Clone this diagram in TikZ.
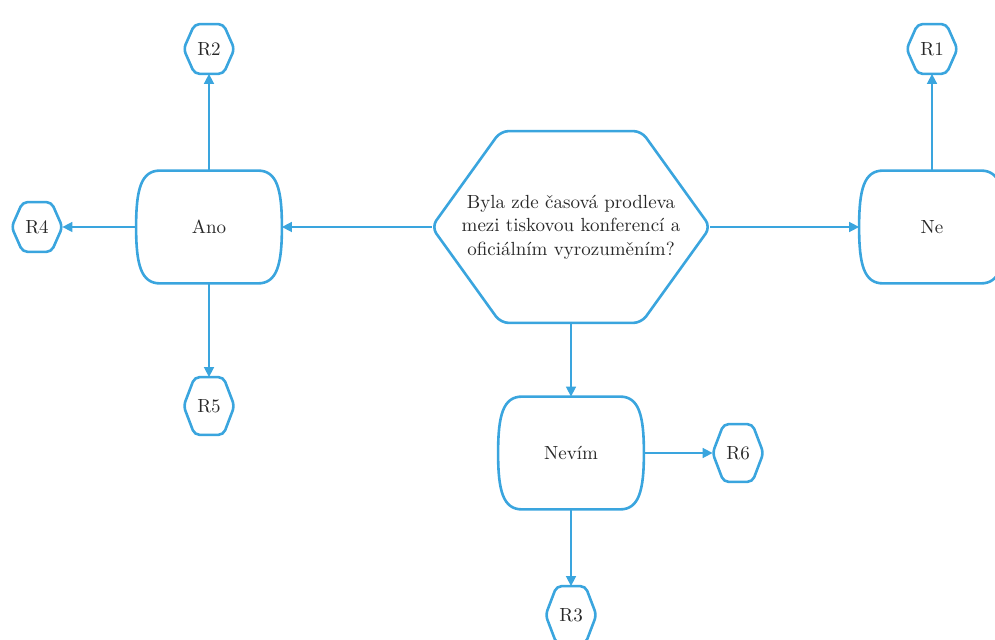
\documentclass[tikz,border=0pt]{standalone}
\usepackage{tikz}
\usetikzlibrary{shapes,arrows.meta,positioning,calc}
\definecolor{flowblue}{RGB}{58,165,222}
\definecolor{textgray}{RGB}{40,40,40}

% outline of a stretched hexagon round a node: #1 node, #2 inset of the points, #3 corner radius
\newcommand{\hexframe}[3]{%
  \draw[frame, rounded corners=#3] (#1.west) -- ($(#1.north west)+(#2,0)$) -- ($(#1.north east)+(-#2,0)$)
    -- (#1.east) -- ($(#1.south east)+(-#2,0)$) -- ($(#1.south west)+(#2,0)$) -- cycle;}
% outline of an answer box with bulging sides
\newcommand{\answerframe}[1]{%
  \draw[frame] ($(#1.north west)+(24,0)$) -- ($(#1.north east)+(-24,0)$)
    .. controls ($(#1.north east)+(-5,0)$) and ($(#1.east)+(0,-38)$) .. (#1.east)
    .. controls ($(#1.east)+(0,38)$) and ($(#1.south east)+(-5,0)$) .. ($(#1.south east)+(-24,0)$)
    -- ($(#1.south west)+(24,0)$)
    .. controls ($(#1.south west)+(5,0)$) and ($(#1.west)+(0,38)$) .. (#1.west)
    .. controls ($(#1.west)+(0,-38)$) and ($(#1.north west)+(5,0)$) .. cycle;}

\begin{document}
\begin{tikzpicture}[x=0.5pt, y=-0.5pt, >={Triangle[length=5pt,width=5pt]},
    frame/.style={draw=flowblue, line width=1.3pt},
    box/.style={rectangle, inner sep=0pt, align=center, text=textgray, font=\fontsize{9.5}{11.75}\selectfont},
    question/.style={box, minimum width=139pt, minimum height=95.5pt},
    answer/.style={box, minimum width=72.5pt, minimum height=56pt},
    result/.style={box, minimum width=25pt, minimum height=24.5pt},
    tallresult/.style={box, minimum width=25pt, minimum height=28.5pt},
    link/.style={->, draw=flowblue, line width=0.8pt}]
    \useasboundingbox (0,0) rectangle (995,640);
    \clip (0,0) rectangle (995,640);

    % Question
    \node[question] (otazka) at (571,227) {Byla zde časová prodleva\\mezi tiskovou konferencí a\\oficiálním vyrozuměním?};
    \hexframe{otazka}{69}{4pt}

    % Answers
    \node[answer] (ano) at (209,227) {Ano};
    \node[answer] (ne) at (932,227) {Ne};
    \node[answer] (nevim) at (571,453) {Nevím};
    \answerframe{ano}
    \answerframe{ne}
    \answerframe{nevim}

    % Results
    \node[result] (r1) at (932,49) {R1};
    \node[result] (r2) at (209,49) {R2};
    \node[tallresult] (r3) at (571,615) {R3};
    \node[result] (r4) at (37,227) {R4};
    \node[tallresult] (r5) at (209,406) {R5};
    \node[tallresult] (r6) at (738,453) {R6};
    \foreach \r in {r1,r2,r3,r4,r5,r6}
        \hexframe{\r}{11}{2.5pt};

    % Links
    \draw[link] (otazka) -- (ano);
    \draw[link] (otazka) -- (ne);
    \draw[link] (otazka) -- (nevim);
    \draw[link] (ano) -- (r2);
    \draw[link] (ano) -- (r4);
    \draw[link] (ano) -- (r5);
    \draw[link] (ne) -- (r1);
    \draw[link] (nevim) -- (r6);
    \draw[link] (nevim) -- (r3);
\end{tikzpicture}
\end{document}
